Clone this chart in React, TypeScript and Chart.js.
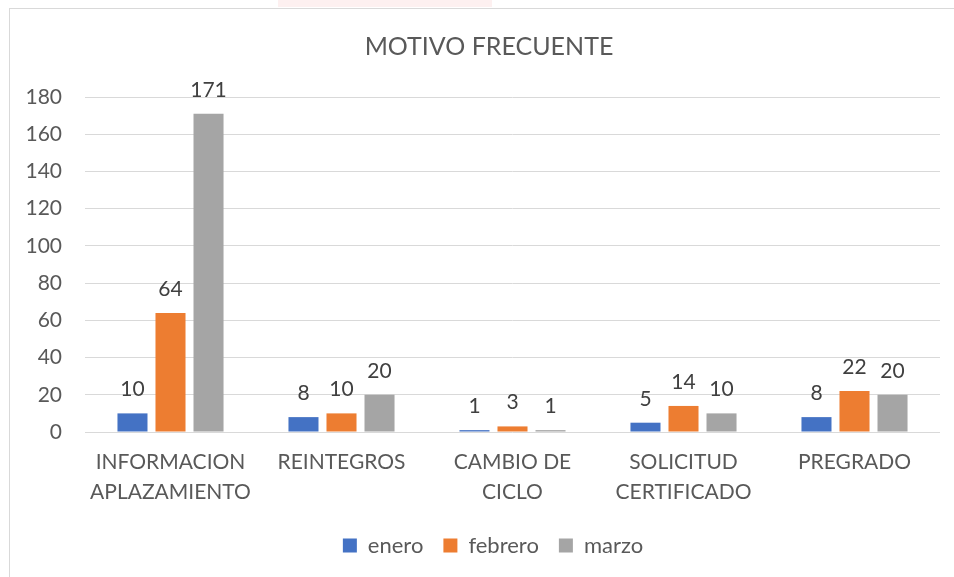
import React, { useEffect, useRef } from "react";
import { Chart, registerables } from "chart.js";

Chart.register(...registerables);

const categories: string[][] = [
  ["INFORMACION", "APLAZAMIENTO"],
  ["REINTEGROS"],
  ["CAMBIO DE", "CICLO"],
  ["SOLICITUD", "CERTIFICADO"],
  ["PREGRADO"],
];
const enero = [10, 8, 1, 5, 8];
const febrero = [64, 10, 3, 14, 22];
const marzo = [171, 20, 1, 10, 20];
const seriesNames = ["enero", "febrero", "marzo"];
const seriesColors = ["#4472C4", "#ED7D31", "#A5A5A5"];
const titleText = "MOTIVO FRECUENTE";
const yMax = 180;
const yStep = 20;

const FONT = "Lato, 'Open Sans', sans-serif";

const dataLabelPlugin = {
  id: "dataLabels",
  afterDatasetsDraw(chart: any) {
    const ctx = chart.ctx;
    ctx.save();
    ctx.font = `21px ${FONT}`;
    ctx.fillStyle = "#404040";
    ctx.textAlign = "center";
    ctx.textBaseline = "alphabetic";
    chart.data.datasets.forEach((ds: any, di: number) => {
      const meta = chart.getDatasetMeta(di);
      meta.data.forEach((bar: any, i: number) => {
        ctx.fillText(String(ds.data[i]), bar.x, bar.y - 17);
      });
    });
    ctx.restore();
  },
};

// Center title and legend on the outer frame rather than the canvas
const centerShiftPlugin = {
  id: "centerShift",
  afterLayout(chart: any) {
    if (chart.titleBlock) chart.titleBlock.left = 38;
    if (chart.legend) chart.legend.left = 46;
  },
};

export default function App() {
  const ref = useRef<HTMLCanvasElement>(null);
  useEffect(() => {
    if (!ref.current) return;
    const chart = new Chart(ref.current, {
      type: "bar",
      data: {
        labels: categories,
        datasets: [enero, febrero, marzo].map((d, i) => ({
          label: seriesNames[i],
          data: d,
          backgroundColor: seriesColors[i],
          borderWidth: 0,
          categoryPercentage: 0.667,
          barPercentage: 0.79,
        })),
      },
      options: {
        responsive: false,
        animation: false,
        devicePixelRatio: 1,
        layout: { padding: { left: 0, right: 14, top: 0, bottom: 10.5 } },
        plugins: {
          title: {
            display: true,
            text: titleText,
            color: "#595959",
            font: { family: FONT, size: 25, weight: "normal" },
            padding: { top: 32, bottom: 35 },
          },
          legend: {
            position: "bottom",
            labels: {
              boxWidth: 14,
              boxHeight: 14,
              padding: 20,
              color: "#595959",
              font: { family: FONT, size: 22 },
            },
          },
          tooltip: { enabled: false },
        },
        scales: {
          x: {
            grid: { display: false, drawTicks: false },
            border: { display: false },
            ticks: {
              color: "#595959",
              font: { family: FONT, size: 21, lineHeight: 1.43 },
              padding: 15,
              maxRotation: 0,
              autoSkip: false,
            },
            afterFit(scale: any) {
              scale.height = 82.5;
            },
          },
          y: {
            min: 0,
            max: yMax,
            ticks: {
              stepSize: yStep,
              color: "#595959",
              font: { family: FONT, size: 21 },
              padding: 23,
            },
            grid: { color: "#D9D9D9", lineWidth: 1, drawTicks: false },
            border: { display: false },
            afterFit(scale: any) {
              scale.width = 85;
            },
          },
        },
      },
      plugins: [dataLabelPlugin, centerShiftPlugin],
    });
    return () => chart.destroy();
  }, []);

  return (
    <div style={{ position: "fixed", left: 0, top: 0, width: 954, height: 577, background: "#fff", overflow: "hidden" }}>
      <div style={{ position: "absolute", left: 278, top: 0, width: 214, height: 7, background: "#fdf0f0" }} />
      <div
        style={{
          position: "absolute",
          left: 9,
          top: 8,
          width: 980,
          height: 620,
          border: "1px solid #D9D9D9",
          boxSizing: "border-box",
        }}
      />
      <canvas ref={ref} width={954} height={577} style={{ position: "absolute", left: 0, top: 0, width: 954, height: 577 }} />
    </div>
  );
}
